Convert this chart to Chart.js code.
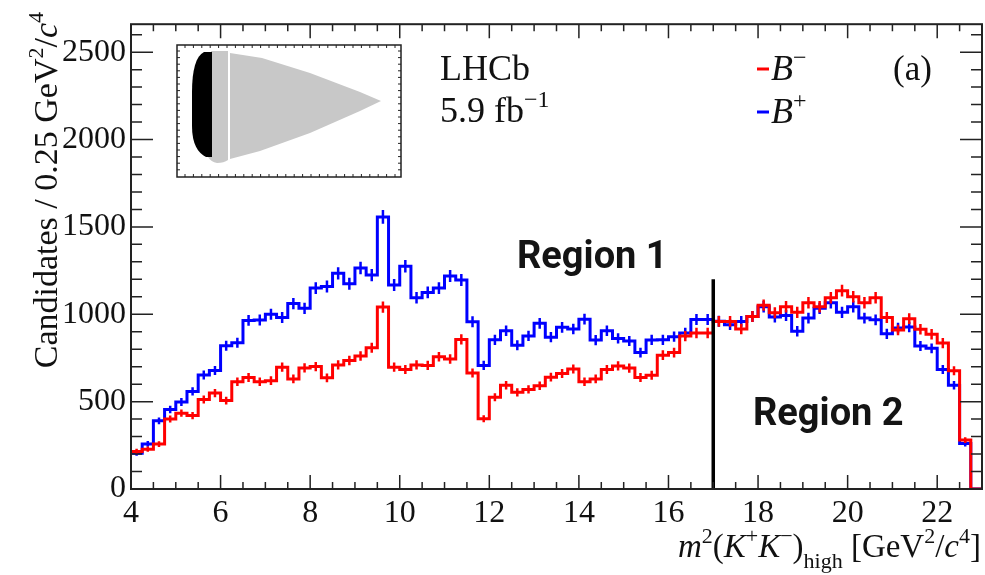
<!DOCTYPE html>
<html>
<head>
<meta charset="utf-8">
<script src="https://cdn.jsdelivr.net/npm/chart.js@4.4.1/dist/chart.umd.min.js"></script>
<style>
  html, body { margin: 0; padding: 0; background: #fff; }
  #wrap { width: 985px; height: 575px; }
</style>
</head>
<body>
<div id="wrap"><canvas id="kk-high" width="985" height="575"></canvas></div>
<script>
/* m^2(K+K-)_high distribution, B- vs B+ */

// low edge of each 0.25 GeV^2/c^4 bin (last bin closes at 23)
const binLowEdges = [
  4.00, 4.25, 4.50, 4.75, 5.00, 5.25, 5.50, 5.75, 6.00, 6.25,
  6.50, 6.75, 7.00, 7.25, 7.50, 7.75, 8.00, 8.25, 8.50, 8.75,
  9.00, 9.25, 9.50, 9.75, 10.00, 10.25, 10.50, 10.75, 11.00, 11.25,
  11.50, 11.75, 12.00, 12.25, 12.50, 12.75, 13.00, 13.25, 13.50, 13.75,
  14.00, 14.25, 14.50, 14.75, 15.00, 15.25, 15.50, 15.75, 16.00, 16.25,
  16.50, 16.75, 17.00, 17.25, 17.50, 17.75, 18.00, 18.25, 18.50, 18.75,
  19.00, 19.25, 19.50, 19.75, 20.00, 20.25, 20.50, 20.75, 21.00, 21.25,
  21.50, 21.75, 22.00, 22.25, 22.50, 22.75
];
const BIN_WIDTH = 0.25;

const countsBminus = [
  215, 228, 257, 400, 434, 420, 512, 549, 506, 614,
  638, 614, 620, 697, 630, 693, 701, 636, 710, 735,
  761, 808, 1041, 697, 684, 710, 707, 757, 744, 856,
  664, 402, 525, 594, 553, 570, 591, 640, 661, 687,
  614, 630, 684, 704, 692, 638, 651, 766, 781, 875,
  893, 893, 959, 959, 916, 987, 1052, 1009, 1043, 1011,
  1066, 1043, 1095, 1135, 1100, 1066, 1095, 982, 910, 975,
  914, 886, 835, 677, 280, 0
];

const countsBplus = [
  204, 258, 390, 455, 498, 558, 652, 678, 820, 837,
  965, 967, 1000, 982, 1061, 1034, 1150, 1159, 1234, 1174,
  1265, 1224, 1557, 1168, 1275, 1095, 1125, 1150, 1219, 1196,
  957, 707, 854, 906, 823, 876, 948, 869, 925, 916,
  972, 852, 905, 862, 847, 781, 853, 854, 872, 893,
  970, 970, 960, 940, 959, 987, 1043, 984, 993, 903,
  978, 1034, 1066, 1011, 1043, 978, 968, 888, 921, 927,
  818, 805, 684, 594, 260, 0
];

// axis labels
const xTickValues = [4, 6, 8, 10, 12, 14, 16, 18, 20, 22];
const yTickValues = [0, 500, 1000, 1500, 2000, 2500];

// boundary between region 1 and region 2
const regionCutX = [17, 17];
const regionCutY = [0, 1200];

const RED  = '#ff0000';
const BLUE = '#0000ff';
const INK  = '#111';
const SERIF = '"Liberation Serif", "DejaVu Serif", serif';

function histPoints(counts) {
  const pts = binLowEdges.map((x, i) => ({ x, y: counts[i] }));
  pts.push({ x: binLowEdges[binLowEdges.length - 1] + BIN_WIDTH, y: counts[counts.length - 1] });
  return pts;
}

/* ---------- rich text (italics, super/subscripts) ---------- */
function runFont(style, size) {
  const small = (style === 'sup' || style === 'sub');
  const sz = small ? Math.round(size * 0.66) : size;
  return (style === 'i' ? 'italic ' : '') + sz + 'px ' + SERIF;
}
function runsWidth(ctx, runs, size) {
  let w = 0;
  runs.forEach(([t, s]) => { ctx.font = runFont(s, size); w += ctx.measureText(t).width; });
  return w;
}
function drawRuns(ctx, runs, x, y, size, align) {
  let cx = align === 'right' ? x - runsWidth(ctx, runs, size) : x;
  ctx.textAlign = 'left';
  ctx.textBaseline = 'alphabetic';
  runs.forEach(([t, s]) => {
    ctx.font = runFont(s, size);
    let dy = 0;
    if (s === 'sup') dy = -size * 0.42;
    if (s === 'sub') dy = size * 0.32;
    ctx.fillText(t, cx, y + dy);
    cx += ctx.measureText(t).width;
  });
}

const yTitle = [['Candidates / 0.25 GeV', ''], ['2', 'sup'], ['/', ''], ['c', 'i'], ['4', 'sup']];
const xTitle = [['m', 'i'], ['2', 'sup'], ['(', ''], ['K', 'i'], ['+', 'sup'], ['K', 'i'], ['\u2212', 'sup'],
                [')', ''], ['high', 'sub'], [' [GeV', ''], ['2', 'sup'], ['/', ''], ['c', 'i'], ['4', 'sup'], [']', '']];

/* ---------- small Dalitz-plot thumbnail ---------- */
function drawInset(ctx) {
  const L = 177, T = 45, R = 401, B = 177;
  ctx.save();
  ctx.fillStyle = '#fff';
  ctx.fillRect(L, T, R - L, B - T);

  ctx.fillStyle = '#c8c8c8';
  ctx.beginPath();
  ctx.moveTo(230, 53);
  ctx.lineTo(262, 58);
  ctx.lineTo(310, 73);
  ctx.lineTo(360, 92);
  ctx.lineTo(381, 101);
  ctx.lineTo(360, 111);
  ctx.lineTo(310, 133);
  ctx.lineTo(260, 151);
  ctx.lineTo(230, 159);
  ctx.closePath();
  ctx.fill();

  ctx.beginPath();
  ctx.moveTo(211, 51);
  ctx.lineTo(228, 51);
  ctx.lineTo(228, 160);
  ctx.quadraticCurveTo(224, 163, 217, 163);
  ctx.quadraticCurveTo(211, 162, 208, 157);
  ctx.closePath();
  ctx.fill();

  ctx.fillStyle = '#000';
  ctx.beginPath();
  ctx.moveTo(212, 52);
  ctx.lineTo(204, 52);
  ctx.bezierCurveTo(196, 56, 192, 70, 192, 92);
  ctx.lineTo(192, 126);
  ctx.bezierCurveTo(192, 144, 198, 153, 206, 157);
  ctx.lineTo(212, 157);
  ctx.closePath();
  ctx.fill();

  ctx.strokeStyle = '#222';
  ctx.lineWidth = 1.5;
  ctx.strokeRect(L, T, R - L, B - T);
  ctx.lineWidth = 1;
  ctx.beginPath();
  for (let px = L + 8; px < R - 2; px += 8.4) {
    ctx.moveTo(px, B); ctx.lineTo(px, B - 3);
    ctx.moveTo(px, T); ctx.lineTo(px, T + 3);
  }
  for (let py = T + 6; py < B - 2; py += 6.6) {
    ctx.moveTo(L, py); ctx.lineTo(L + 3, py);
    ctx.moveTo(R, py); ctx.lineTo(R - 3, py);
  }
  ctx.stroke();
  ctx.restore();
}

/* ---------- error bars after each histogram ---------- */
const errorBars = {
  id: 'errorBars',
  afterDatasetDraw(chart, args) {
    const ds = chart.data.datasets[args.index];
    if (!ds.counts) return;
    const { ctx, chartArea: a, scales: { x, y } } = chart;
    ctx.save();
    ctx.beginPath();
    ctx.rect(a.left, a.top, a.right - a.left, a.bottom - a.top);
    ctx.clip();
    ctx.strokeStyle = ds.borderColor;
    ctx.lineWidth = 2.5;
    ctx.beginPath();
    ds.counts.forEach((n, i) => {
      if (n <= 0) return;
      const px = x.getPixelForValue(binLowEdges[i] + BIN_WIDTH / 2);
      const e = Math.sqrt(n);
      ctx.moveTo(px, y.getPixelForValue(n - e));
      ctx.lineTo(px, y.getPixelForValue(n + e));
    });
    ctx.stroke();
    ctx.restore();
  }
};

/* ---------- frame, inward ticks, titles and annotations ---------- */
const decorations = {
  id: 'decorations',
  afterDraw(chart) {
    const { ctx, chartArea: a, scales: { x, y } } = chart;
    ctx.save();

    // ticks on all four sides, pointing inwards
    ctx.strokeStyle = '#222';
    ctx.lineWidth = 1.5;
    ctx.beginPath();
    for (let v = 0; v <= 2600; v += 100) {
      const py = y.getPixelForValue(v);
      const len = v % 500 === 0 ? 22 : 11;
      ctx.moveTo(a.left, py); ctx.lineTo(a.left + len, py);
      ctx.moveTo(a.right, py); ctx.lineTo(a.right - len, py);
    }
    for (let v = 4; v <= 23; v += 0.5) {
      const px = x.getPixelForValue(v);
      const len = (v % 2 === 0) ? 14 : 7;
      ctx.moveTo(px, a.bottom); ctx.lineTo(px, a.bottom - len);
      ctx.moveTo(px, a.top); ctx.lineTo(px, a.top + len);
    }
    ctx.stroke();

    ctx.lineWidth = 2;
    ctx.strokeRect(a.left, a.top, a.right - a.left, a.bottom - a.top);

    drawInset(ctx);

    ctx.fillStyle = INK;
    // axis titles
    ctx.save();
    ctx.translate(57, 12);
    ctx.rotate(-Math.PI / 2);
    drawRuns(ctx, yTitle, 0, 0, 34, 'right');
    ctx.restore();
    drawRuns(ctx, xTitle, 981, 557, 33, 'right');

    // experiment label
    drawRuns(ctx, [['LHCb', '']], 440, 80, 36, 'left');
    drawRuns(ctx, [['5.9 fb', ''], ['\u22121', 'sup']], 440, 122, 36, 'left');
    drawRuns(ctx, [['(a)', '']], 893, 80, 35, 'left');

    // legend
    ctx.lineWidth = 3;
    ctx.strokeStyle = RED;
    ctx.beginPath(); ctx.moveTo(757, 69); ctx.lineTo(769, 69); ctx.stroke();
    ctx.strokeStyle = BLUE;
    ctx.beginPath(); ctx.moveTo(757, 112); ctx.lineTo(769, 112); ctx.stroke();
    ctx.fillStyle = INK;
    drawRuns(ctx, [['B', 'i'], ['\u2212', 'sup']], 771, 80, 36, 'left');
    drawRuns(ctx, [['B', 'i'], ['+', 'sup']], 771, 123, 36, 'left');

    // region labels
    ctx.font = 'bold 38px Roboto, "Open Sans", sans-serif';
    ctx.textAlign = 'left';
    ctx.fillStyle = '#141414';
    ctx.fillText('Region 1', 517, 268);
    ctx.fillText('Region 2', 753, 425);

    ctx.restore();
  }
};

const tickFont = { family: SERIF, size: 32 };

new Chart(document.getElementById('kk-high'), {
  type: 'line',
  data: {
    datasets: [
      {
        label: 'region cut',
        data: regionCutX.map((x, i) => ({ x, y: regionCutY[i] })),
        borderColor: '#000',
        borderWidth: 3.5,
        pointRadius: 0,
        order: -1
      },
      {
        label: 'B\u2212',
        data: histPoints(countsBminus),
        counts: countsBminus,
        borderColor: RED,
        borderWidth: 3,
        stepped: 'before',
        pointRadius: 0,
        borderJoinStyle: 'miter',
        fill: false,
        order: 0
      },
      {
        label: 'B+',
        data: histPoints(countsBplus),
        counts: countsBplus,
        borderColor: BLUE,
        borderWidth: 3,
        stepped: 'before',
        pointRadius: 0,
        borderJoinStyle: 'miter',
        fill: false,
        order: 1
      }
    ]
  },
  options: {
    responsive: false,
    animation: false,
    layout: { padding: { top: 16, right: 3, left: 0, bottom: 0 } },
    plugins: { legend: { display: false }, tooltip: { enabled: false } },
    scales: {
      x: {
        type: 'linear',
        min: 4,
        max: 23,
        grid: { display: false, drawTicks: false },
        border: { display: false },
        afterBuildTicks: s => { s.ticks = xTickValues.map(v => ({ value: v })); },
        ticks: { autoSkip: false, maxRotation: 0, padding: 5, color: INK, font: tickFont,
                 callback: v => String(v) },
        afterFit: s => { s.height = 86; }
      },
      y: {
        type: 'linear',
        min: 0,
        max: 2660,
        grid: { display: false, drawTicks: false },
        border: { display: false },
        afterBuildTicks: s => { s.ticks = yTickValues.map(v => ({ value: v })); },
        ticks: { autoSkip: false, padding: 5, color: INK, font: tickFont,
                 callback: v => String(v) },
        afterFit: s => { s.width = 131; }
      }
    }
  },
  plugins: [errorBars, decorations]
});
</script>
</body>
</html>
